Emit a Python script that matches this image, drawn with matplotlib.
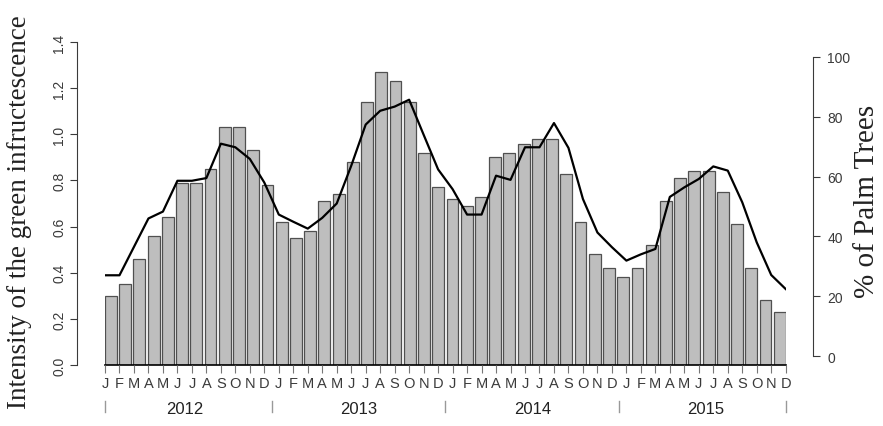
import numpy as np
import matplotlib
matplotlib.use("Agg")
import matplotlib.pyplot as plt
from matplotlib.transforms import blended_transform_factory

years = ["2012", "2013", "2014", "2015"]
month_letters = ["J", "F", "M", "A", "M", "J", "J", "A", "S", "O", "N", "D"]

# intensity of the green infructescence (bars, left axis)
intensity = [
    0.30, 0.35, 0.46, 0.56, 0.64, 0.79, 0.79, 0.85, 1.03, 1.03, 0.93, 0.78,
    0.62, 0.55, 0.58, 0.71, 0.74, 0.88, 1.14, 1.27, 1.23, 1.14, 0.92, 0.77,
    0.72, 0.69, 0.73, 0.90, 0.92, 0.96, 0.98, 0.98, 0.83, 0.62, 0.48, 0.42,
    0.38, 0.42, 0.52, 0.71, 0.81, 0.84, 0.84, 0.75, 0.61, 0.42, 0.28, 0.23,
]

# % of palm trees (line, right axis)
palm_pct = [
    27.0, 27.0, 36.5, 46.0, 48.3, 58.6, 58.6, 59.5, 71.0, 69.8, 65.9, 58.0,
    47.3, 44.9, 42.6, 46.2, 51.0, 63.6, 77.4, 82.0, 83.4, 85.7, 74.0, 62.4,
    55.8, 47.3, 47.3, 60.3, 58.9, 69.8, 69.8, 77.9, 69.6, 52.5, 41.3, 36.4,
    31.9, 34.0, 35.8, 53.2, 56.4, 59.2, 63.4, 62.0, 51.4, 38.0, 27.1, 22.4,
]

n = len(intensity)
months = np.arange(1, n + 1)
labels = month_letters * len(years)

sans = ["Liberation Sans", "DejaVu Sans"]
serif = ["Liberation Serif", "DejaVu Serif"]
grey = "#3a3a3a"
offset = 20  # points between plot region and the y axes

fig = plt.figure(figsize=(8.83, 4.27), dpi=100)
rect = [105 / 883, 1 - 366 / 427, 680.7 / 883, 323 / 427]

# barplot, R style: space 0.2, bars edge to edge in the plot region
ax = fig.add_axes(rect)
space = 0.2
lefts = space + (1 + space) * np.arange(n)
ax.bar(lefts, intensity, width=1.0, align="edge", color="#bebebe",
       edgecolor="#505050", linewidth=0.9)
ax.set_xlim(space, (1 + space) * n)
ax.set_ylim(0, 1.4)
for s in ["top", "right"]:
    ax.spines[s].set_visible(False)
ax.spines["bottom"].set_color("black")
ax.spines["bottom"].set_linewidth(1.2)
ax.set_xticks([])
ax.spines["left"].set_position(("outward", offset))
ax.spines["left"].set_bounds(0, 1.4)
ax.spines["left"].set_color(grey)
ax.spines["left"].set_linewidth(0.8)
yt = np.arange(0, 1.41, 0.2)
ax.set_yticks(yt)
ax.set_yticklabels([f"{v:.1f}" for v in yt], rotation=90, va="center",
                   family=sans, fontsize=10, color=grey)
ax.tick_params(axis="y", length=5, width=0.8, color=grey, pad=3)

# line on its own scale, drawn over the bars
ax2 = fig.add_axes(rect)
ax2.patch.set_visible(False)
ax2.plot(months, palm_pct, color="black", linewidth=1.6)
ax2.set_xlim(1, n)
ax2.set_ylim(-3, 105)
for s in ["top", "left", "bottom"]:
    ax2.spines[s].set_visible(False)
ax2.yaxis.tick_right()
ax2.spines["right"].set_position(("outward", offset))
ax2.spines["right"].set_bounds(0, 100)
ax2.spines["right"].set_color(grey)
ax2.spines["right"].set_linewidth(0.8)
ax2.set_yticks(np.arange(0, 101, 20))
ax2.set_yticklabels([str(v) for v in range(0, 101, 20)],
                    family=sans, fontsize=10, color=grey)
ax2.tick_params(axis="y", length=5, width=0.8, color=grey, pad=5)

ax2.set_xticks(months)
ax2.set_xticklabels(labels, family=sans, fontsize=10.5, color=grey)
ax2.tick_params(axis="x", length=6, width=0.8, color="#777777", pad=2)

# year separators and year labels under the month letters
trans = blended_transform_factory(ax2.transData, ax2.transAxes)
bounds = [1] + [12 * i + 0.5 for i in range(1, len(years))] + [n]
for b in bounds:
    ax2.plot([b, b], [-0.111, -0.145], color="#999999", linewidth=1,
             transform=trans, clip_on=False)
for i, y in enumerate(years):
    ax2.text(12 * i + 6.5, -0.135, y, transform=trans, ha="center",
             va="center", family=sans, fontsize=12, color="#222222")

fig.text(20 / 883, 1 - 212 / 427, "Intensity of the green infructescence",
         rotation=90, ha="center", va="center", family=serif, fontsize=19.5,
         color="#222222")
fig.text(867 / 883, 1 - 201 / 427, "% of Palm Trees", rotation=90,
         ha="center", va="center", family=serif, fontsize=21, color="#222222")

fig.savefig("out.png", dpi=100)
